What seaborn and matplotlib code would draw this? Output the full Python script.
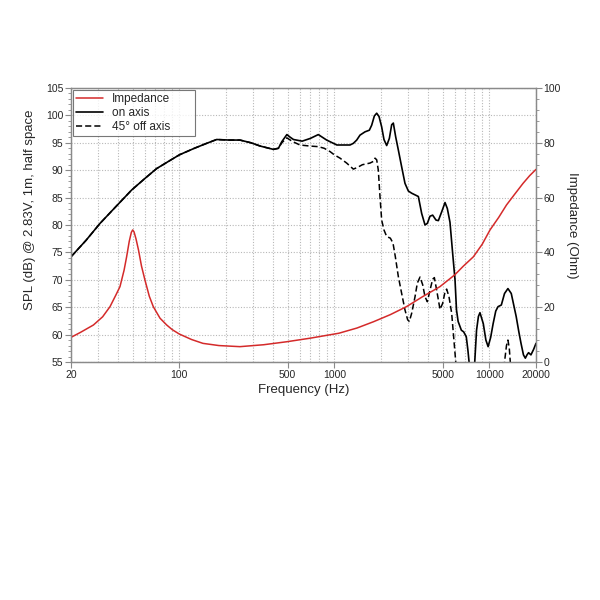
import numpy as np
import pandas as pd
import matplotlib
matplotlib.use("Agg")
import matplotlib.pyplot as plt
import seaborn as sns
from matplotlib.ticker import LogLocator, NullFormatter, MultipleLocator
from matplotlib.lines import Line2D

# ---- data ----
freq_on = [20, 25, 30.8, 40, 49.3, 60, 71.4, 85, 100, 125, 150, 174, 210, 246, 290, 333,
           404, 436, 458, 494, 520, 545, 620, 700, 788, 892, 1038, 1088, 1262, 1326, 1394,
           1464, 1577, 1682, 1741, 1812, 1876, 1942, 2020, 2090, 2176, 2264, 2344, 2402, 2487,
           2587, 2719, 2856, 3003, 3155, 3315, 3483, 3660, 3846, 3981, 4141, 4308, 4526, 4689,
           4926, 5177, 5358, 5573, 5800, 6005, 6140, 6290, 6600, 6830, 7100, 7270, 7400, 7620,
           7900, 8050, 8270, 8500, 8700, 9140, 9500, 9820, 10200, 10580, 11000, 11380, 11950,
           12530, 13180, 13850, 14900, 15500, 16010, 16600, 17070, 17500, 17910, 18550, 19300, 20000]
spl_on = [74.2, 77.2, 80.3, 83.7, 86.4, 88.5, 90.3, 91.6, 92.8, 94.0, 94.9, 95.6, 95.5, 95.5, 95.0, 94.4,
          93.8, 94.0, 95.2, 96.5, 96.0, 95.6, 95.3, 95.8, 96.5, 95.5, 94.6, 94.6, 94.6, 94.9, 95.5,
          96.4, 97.0, 97.3, 98.2, 99.9, 100.4, 99.8, 97.9, 95.6, 94.5, 95.8, 98.3, 98.6, 96.1,
          93.7, 90.6, 87.6, 86.2, 85.8, 85.5, 85.2, 82.1, 80.0, 80.3, 81.6, 81.8, 80.9, 80.8,
          82.4, 84.1, 83.0, 80.5, 74.8, 70.0, 64.5, 62.4, 60.8, 60.5, 59.6, 57.2, 55.0, 52.0,
          52.0, 55.0, 60.8, 63.3, 64.0, 62.0, 59.0, 57.8, 59.5, 62.0, 64.3, 65.1, 65.4,
          67.5, 68.4, 67.5, 63.3, 60.5, 58.4, 56.3, 55.7, 56.3, 56.7, 56.3, 57.3, 58.4]

freq_off = [20, 25, 30.8, 40, 49.3, 60, 71.4, 85, 100, 125, 150, 174, 210, 246, 290, 333,
            404, 436, 458, 494, 540, 600, 700, 788, 860, 938, 1000, 1088, 1201, 1326, 1408,
            1516, 1698, 1784, 1830, 1876, 1922, 1970, 2020, 2090, 2176, 2298, 2390, 2475, 2587,
            2719, 2856, 2972, 3047, 3155, 3315, 3431, 3570, 3715, 3846, 3981, 4141, 4308, 4418,
            4574, 4806, 4998, 5177, 5305, 5492, 5715, 6005, 6200, 6500,
            12000, 12530, 12900, 13180, 13450, 13650, 14000]
spl_off = [74.2, 77.2, 80.3, 83.7, 86.4, 88.5, 90.3, 91.6, 92.8, 94.0, 94.9, 95.6, 95.5, 95.5, 95.0, 94.4,
           93.8, 94.0, 95.0, 95.9, 95.2, 94.6, 94.4, 94.3, 94.0, 93.4, 92.8, 92.2, 91.3, 90.2, 90.5,
           91.0, 91.3, 91.6, 92.2, 91.9, 90.0, 85.2, 80.9, 79.1, 77.9, 77.6, 76.7, 74.2, 70.6,
           67.5, 64.5, 62.7, 62.4, 63.9, 66.9, 69.4, 70.5, 69.1, 66.9, 66.0, 68.1, 70.1, 70.4,
           68.1, 64.6, 65.7, 67.8, 68.3, 66.9, 63.9, 56.6, 52.0, 45.0,
           45.0, 55.0, 58.0, 59.0, 57.5, 55.0, 45.0]

freq_imp = [20, 23, 27.9, 32, 35.7, 39, 41.4, 44, 45.7, 47.5, 49, 50, 51, 52.5, 54.5, 57, 60, 64,
            67.9, 75, 82.9, 90, 100, 120, 142, 180, 246, 350, 494, 700, 1070, 1400, 1790, 2300,
            2920, 3700, 4800, 5980, 6800, 7890, 9000, 10100, 11500, 12900, 14600, 16500, 18200, 20000]
imp = [9.0, 10.8, 13.5, 16.5, 20.2, 24.5, 27.5, 33.5, 38.4, 44.0, 47.3, 48.2, 47.5, 45.0, 40.9, 35.0, 29.9, 24.0,
       20.2, 16.0, 13.5, 11.8, 10.2, 8.2, 6.8, 6.0, 5.6, 6.3, 7.4, 8.7, 10.5, 12.4, 14.7, 17.3,
       20.2, 23.8, 27.5, 31.8, 35.0, 38.4, 43.0, 48.2, 52.8, 57.3, 61.3, 65.2, 68.0, 70.3]

xtick_vals = [20, 100, 500, 1000, 5000, 10000, 20000]
xtick_labels = ["20", "100", "500", "1000", "5000", "10000", "20000"]

# ---- plotting ----
sns.set_theme(style="white")
plt.rcParams['font.family'] = ['Liberation Sans', 'DejaVu Sans']

fig = plt.figure(figsize=(6, 6), dpi=100)
ax = fig.add_axes([71/600, 1-362/600, (536-71)/600, (362-88)/600])
ax2 = ax.twinx()

df_on = pd.DataFrame({"f": freq_on, "spl": spl_on})
df_off = pd.DataFrame({"f": freq_off, "spl": spl_off})
df_imp = pd.DataFrame({"f": freq_imp, "z": imp})

sns.lineplot(data=df_on, x="f", y="spl", ax=ax, color="black", lw=1.2, sort=False)
sns.lineplot(data=df_off, x="f", y="spl", ax=ax, color="black", lw=1.1, ls=(0, (4, 2)), sort=False)
sns.lineplot(data=df_imp, x="f", y="z", ax=ax2, color="#d42a2a", lw=1.1, sort=False)

ax.set_xscale("log")
ax.set_xlim(20, 20000)
ax.set_ylim(55, 105)
ax2.set_ylim(0, 100)

ax.set_xticks(xtick_vals)
ax.set_xticklabels(xtick_labels)
ax.xaxis.set_minor_locator(LogLocator(base=10, subs=np.arange(2, 10), numticks=20))
ax.xaxis.set_minor_formatter(NullFormatter())
ax.set_yticks(np.arange(55, 106, 5))
ax.yaxis.set_minor_locator(MultipleLocator(1))
ax2.set_yticks(np.arange(0, 101, 20))
ax2.yaxis.set_minor_locator(MultipleLocator(4))

ax.grid(True, which="both", axis="x", color="#b8b8b8", ls=(0, (1, 1.5)), lw=0.8)
ax.grid(True, which="major", axis="y", color="#b8b8b8", ls=(0, (1, 1.5)), lw=0.8)
ax2.grid(False)

for a in (ax, ax2):
    for s in a.spines.values():
        s.set_color("#8a8a8a")
        s.set_linewidth(0.9)
ax.tick_params(axis="both", which="major", direction="out", length=4, width=0.8,
               color="#8a8a8a", labelsize=7.5, pad=1.5, left=True, bottom=True)
ax.tick_params(axis="both", which="minor", direction="out", length=2, width=0.6,
               color="#8a8a8a", left=True, bottom=True)
ax.tick_params(axis="x", which="minor", length=0)
ax2.tick_params(axis="y", which="major", direction="out", length=4, width=0.8,
                color="#8a8a8a", labelsize=7.5, pad=1.5, right=True)
ax2.tick_params(axis="y", which="minor", direction="out", length=2, width=0.6,
                color="#8a8a8a", right=True)

ax.set_xlabel("Frequency (Hz)", fontsize=9.5, labelpad=3)
ax.set_ylabel("SPL (dB) @ 2.83V, 1m, half space", fontsize=9.5, va="center")
ax.yaxis.set_label_coords(-0.088, 0.555)
ax2.set_ylabel("Impedance (Ohm)", fontsize=9.5, rotation=270, va="center")
ax2.yaxis.set_label_coords(1.077, 0.5)

handles = [Line2D([], [], color="#d42a2a", lw=1.1),
           Line2D([], [], color="black", lw=1.2),
           Line2D([], [], color="black", lw=1.1, ls=(0, (4, 2)))]
leg = ax2.legend(handles, ["Impedance", "on axis", "45° off axis"], loc="upper left",
                 bbox_to_anchor=(0.0, 0.0, 0.27, 1.0), mode="expand",
                 fontsize=8.5, frameon=True, fancybox=False, borderaxespad=0.15,
                 handlelength=2.3, handletextpad=0.7, labelspacing=0.15, borderpad=0.3)
leg.get_frame().set_edgecolor("#555555")
leg.get_frame().set_linewidth(0.8)

fig.savefig("out.png", dpi=100)
